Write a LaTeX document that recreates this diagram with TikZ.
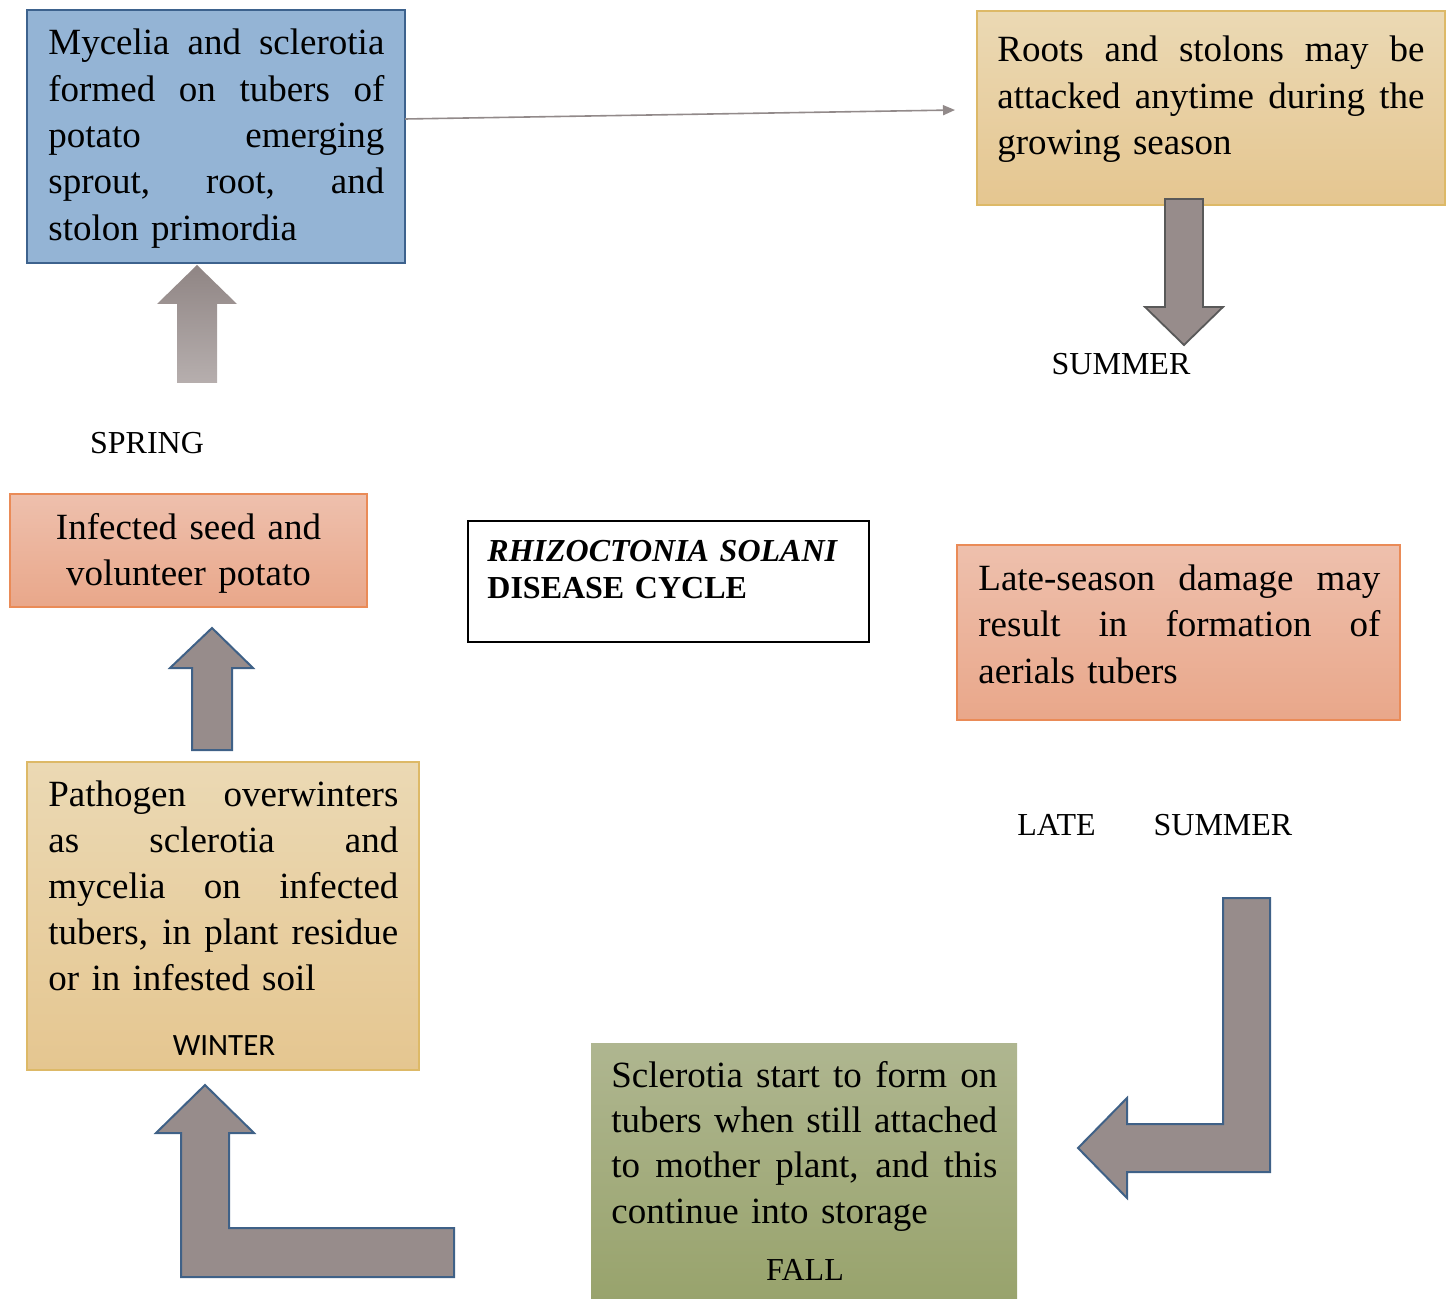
\documentclass[tikz,border=0pt]{standalone}
\usepackage{fontspec}
\setmainfont{Liberation Serif}
\newfontfamily\carlfont{Carlito}
\usetikzlibrary{arrows.meta,calc}
\definecolor{bluefill}{HTML}{94B4D5}
\definecolor{blueline}{HTML}{3D628D}
\definecolor{tantop}{HTML}{EBD9B4}
\definecolor{tanbot}{HTML}{E5C690}
\definecolor{tanline}{HTML}{DDB967}
\definecolor{saltop}{HTML}{EEC0AD}
\definecolor{salbot}{HTML}{E9A78A}
\definecolor{salline}{HTML}{EA8B57}
\definecolor{grtop}{HTML}{AFB690}
\definecolor{grbot}{HTML}{98A36C}
\definecolor{arrgrey}{HTML}{978C8B}
\definecolor{arrline}{HTML}{3F6187}
\definecolor{conngrey}{HTML}{928A8A}
\newcommand\JL[2]{\leavevmode\hbox to #1{\spaceskip=\fontdimen2\font plus 1fil\relax #2}}
\begin{document}
\begin{tikzpicture}[x=0.5pt,y=-0.5pt,
  boxnode/.style={anchor=north west, inner sep=0pt, outer sep=0pt, line width=1pt},
  bluebox/.style={boxnode, fill=bluefill, draw=blueline},
  tanbox/.style={boxnode, top color=tantop, bottom color=tanbot, draw=tanline},
  salbox/.style={boxnode, top color=saltop, bottom color=salbot, draw=salline},
  greenbox/.style={boxnode, top color=grtop, bottom color=grbot},
  titlebox/.style={boxnode, draw=black, fill=white},
  body/.style={anchor=base west, inner sep=0pt, align=left, font=\fontsize{18.5}{23.15}\selectfont},
  season/.style={anchor=base, inner sep=0pt, font=\fontsize{16}{19}\selectfont},
  blockarrow/.style={fill=arrgrey, draw=arrline, line width=1pt, line join=miter},
  conn/.style={draw=conngrey, line width=0.8pt, -{Triangle[length=6pt,width=5pt]}}
]
\useasboundingbox (0,0) rectangle (1451,1299);

% boxes
\node[bluebox, minimum width=189pt, minimum height=126.5pt] (b1) at (27,10) {};
\node[tanbox, minimum width=234pt, minimum height=97pt] (b2) at (977,11) {};
\node[salbox, minimum width=178.5pt, minimum height=56.5pt] (b3) at (10,494) {};
\node[titlebox, minimum width=200.5pt, minimum height=60.5pt] (b4) at (468,521) {};
\node[salbox, minimum width=221.5pt, minimum height=87.5pt] (b5) at (957,545) {};
\node[tanbox, minimum width=196pt, minimum height=154pt] (b6) at (27,762) {};
\node[greenbox, minimum width=213pt, minimum height=129pt] (b7) at (591,1043) {};

% texts
\node[body, text width=168pt] (t1) at (48,55) {\JL{168pt}{Mycelia and sclerotia}\\\JL{168pt}{formed on tubers of}\\\JL{168pt}{potato emerging}\\\JL{168pt}{sprout, root, and}\\stolon primordia};
\node[body, text width=213.5pt, font=\fontsize{18.5}{23.25}\selectfont] (t2) at (997,62) {\JL{213.5pt}{Roots and stolons may be}\\\JL{213.5pt}{attacked anytime during the}\\growing season};
\node[body, anchor=base, text width=178.5pt, align=center, font=\fontsize{18.5}{23}\selectfont] (t3) at (188.5,539) {Infected seed and\\volunteer potato};
\node[body, text width=190pt, font=\fontsize{16}{18.5}\selectfont\bfseries] (t4) at (487,561) {\textit{RHIZOCTONIA SOLANI}\\DISEASE CYCLE};
\node[body, text width=201pt, font=\fontsize{18.5}{23.25}\selectfont] (t5) at (978,590) {\JL{201pt}{Late-season damage may}\\\JL{201pt}{result in formation of}\\aerials tubers};
\node[body, text width=175pt, font=\fontsize{18.5}{23}\selectfont] (t6) at (48,806) {\JL{175pt}{Pathogen overwinters}\\\JL{175pt}{as sclerotia and}\\\JL{175pt}{mycelia on infected}\\\JL{175pt}{tubers, in plant residue}\\or in infested soil};
\node[body, text width=193pt, font=\fontsize{18.5}{22.7}\selectfont] (t7) at (611,1087) {\JL{193pt}{Sclerotia start to form on}\\\JL{193pt}{tubers when still attached}\\\JL{193pt}{to mother plant, and this}\\continue into storage};

% season labels
\node[season] (spring) at (147,453) {SPRING};
\node[season] (summer) at (1121,375) {SUMMER};
\node[season, anchor=base west] (latesummer) at (1017,835) {LATE\hspace{29pt}SUMMER};
\node[season, font=\carlfont\fontsize{15.5}{18}\selectfont] (winter) at (224,1055) {WINTER};
\node[season] (fall) at (805,1280) {FALL};

% thin connector
\coordinate (c1) at (955,110);
\draw[conn] ($(b1.east)+(0,-17.5)$) -- (c1);

% spring arrow (gradient, no outline)
\shade[top color=arrgrey!95!black, bottom color=arrgrey!70!white]
  (177,383) -- (177,304) -- (157,304) -- (197,265) -- (237,304) -- (217,304) -- (217,383) -- cycle;

% summer arrow
\draw[fill=arrgrey, draw=black!65, line width=0.9pt, line join=miter]
  (1165,199) -- (1203,199) -- (1203,307) -- (1223,307) -- (1184,345) -- (1145,307) -- (1165,307) -- cycle;

% arrow winter -> infected seed
\draw[blockarrow]
  (192,750) -- (192,668) -- (170,668) -- (212,628) -- (253,668) -- (232,668) -- (232,750) -- cycle;

% bent arrow bottom left
\draw[blockarrow]
  (454,1228) -- (229,1228) -- (229,1133) -- (254,1133) -- (205,1085) -- (156,1133) -- (181,1133) -- (181,1277) -- (454,1277) -- cycle;

% bent arrow right
\draw[blockarrow]
  (1223,898) -- (1270,898) -- (1270,1172) -- (1127,1172) -- (1127,1198) -- (1078,1148) -- (1127,1098) -- (1127,1124) -- (1223,1124) -- cycle;
\end{tikzpicture}
\end{document}
